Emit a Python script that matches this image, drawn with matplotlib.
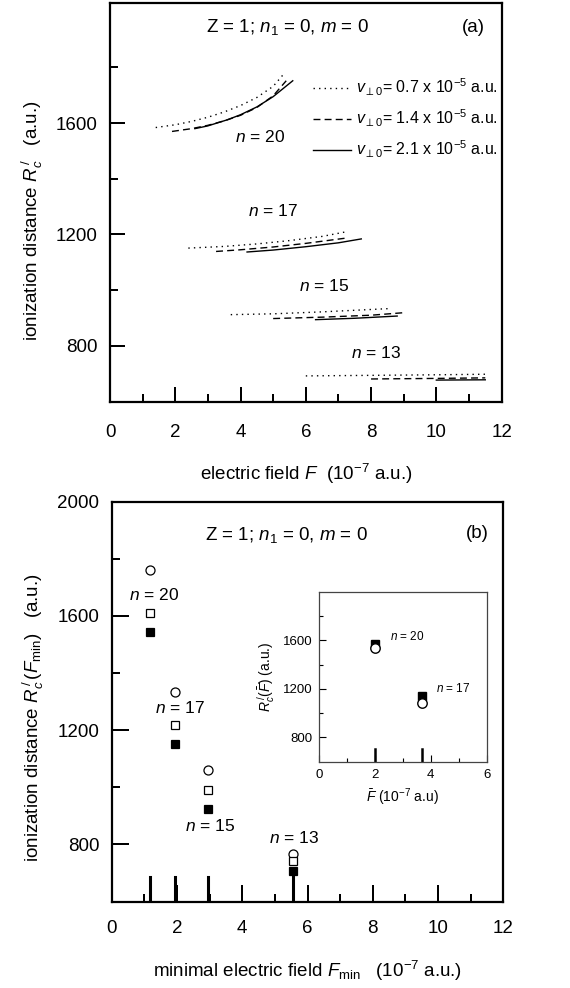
import numpy as np
import matplotlib
matplotlib.use("Agg")
import matplotlib.pyplot as plt
from matplotlib.ticker import FixedLocator, MultipleLocator

plt.rcParams['font.family'] = ['Liberation Sans', 'DejaVu Sans']
plt.rcParams['mathtext.fontset'] = 'custom'
plt.rcParams['mathtext.rm'] = 'Liberation Sans'
plt.rcParams['mathtext.it'] = 'Liberation Sans:italic'
plt.rcParams['mathtext.bf'] = 'Liberation Sans:bold'

# panel (a): R_c' vs F for three transverse velocities
n20_dot_x = [1.4, 2.0, 2.5, 3.0, 3.5, 4.0, 4.5, 5.0, 5.3]
n20_dot_y = [1584, 1594, 1606, 1621, 1640, 1663, 1692, 1732, 1773]
n20_dash_x = [1.9, 2.5, 3.0, 3.5, 4.0, 4.5, 5.0, 5.4]
n20_dash_y = [1570, 1580, 1592, 1608, 1628, 1656, 1698, 1752]
n20_sol_x = [2.6, 3.0, 3.6, 4.0, 4.5, 5.0, 5.6]
n20_sol_y = [1580, 1590, 1612, 1630, 1658, 1695, 1752]

n17_dot_x = [2.4, 3.5, 4.5, 5.5, 6.5, 7.3]
n17_dot_y = [1151, 1157, 1166, 1178, 1193, 1211]
n17_dash_x = [3.25, 4.0, 5.0, 6.0, 7.3]
n17_dash_y = [1139, 1145, 1155, 1168, 1188]
n17_sol_x = [4.2, 5.0, 6.0, 7.0, 7.7]
n17_sol_y = [1137, 1144, 1156, 1170, 1184]

n15_dot_x = [3.7, 5.0, 6.5, 8.6]
n15_dot_y = [912, 915, 922, 934]
n15_dash_x = [5.0, 6.5, 8.0, 9.0]
n15_dash_y = [898, 903, 910, 919]
n15_sol_x = [6.3, 7.5, 8.8]
n15_sol_y = [894, 899, 907]

n13_dot_x = [6.0, 8.0, 10.0, 11.5]
n13_dot_y = [692, 694, 696, 698]
n13_dash_x = [8.0, 10.0, 11.5]
n13_dash_y = [681, 683, 685]
n13_sol_x = [10.0, 11.5]
n13_sol_y = [677, 678]

n_labels = ["$n$ = 20", "$n$ = 17", "$n$ = 15", "$n$ = 13"]
a_label_x = [4.6, 5.0, 6.55, 8.15]
a_label_y = [1551, 1284, 1014, 775]

# panel (b): R_c'(F_min)
fmin = [1.17, 1.94, 2.96, 5.55]
circ_y = [1760, 1334, 1062, 765]
open_sq_y = [1609, 1217, 989, 741]
fill_sq_y = [1544, 1150, 923, 706]
b_label_x = [1.3, 2.1, 3.0, 5.6]
b_label_y = [1673, 1278, 864, 822]

# inset
fbar = [2.0, 3.7]
inset_sq_y = [1570, 1145]
inset_circ_y = [1540, 1080]
inset_labels = ["$n$ = 20", "$n$ = 17"]
inset_label_x = [3.15, 4.8]
inset_label_y = [1633, 1200]

legend_labels = [r"$v_{{\perp}0}$= 0.7 x 10$^{-5}$ a.u.",
                 r"$v_{{\perp}0}$= 1.4 x 10$^{-5}$ a.u.",
                 r"$v_{{\perp}0}$= 2.1 x 10$^{-5}$ a.u."]

dotted = (0, (1, 3))
dashed = (0, (5, 3))


def style_axes(ax, lw=1.6, major=11, minor=5.5, size=13.5, pad=9):
    for s in ax.spines.values():
        s.set_linewidth(lw)
    ax.tick_params(which='both', direction='in', top=False, right=False,
                   width=lw * 0.9, labelsize=size, pad=pad)
    ax.tick_params(which='major', length=major)
    ax.tick_params(which='minor', length=minor)


fig = plt.figure(figsize=(5.7, 9.88), dpi=100)

# ---- panel (a)
ax1 = fig.add_axes([0.193, 0.5936, 0.687, 0.403])
curves = [
    (n20_dot_x, n20_dot_y, n20_dash_x, n20_dash_y, n20_sol_x, n20_sol_y),
    (n17_dot_x, n17_dot_y, n17_dash_x, n17_dash_y, n17_sol_x, n17_sol_y),
    (n15_dot_x, n15_dot_y, n15_dash_x, n15_dash_y, n15_sol_x, n15_sol_y),
    (n13_dot_x, n13_dot_y, n13_dash_x, n13_dash_y, n13_sol_x, n13_sol_y),
]
for i, (dx, dy, ex, ey, sx, sy) in enumerate(curves):
    ax1.plot(dx, dy, color='black', lw=1.0, ls=dotted,
             label=legend_labels[0] if i == 0 else None)
    ax1.plot(ex, ey, color='black', lw=1.0, ls=dashed,
             label=legend_labels[1] if i == 0 else None)
    ax1.plot(sx, sy, color='black', lw=1.0, ls='-',
             label=legend_labels[2] if i == 0 else None)
for lab, x, y in zip(n_labels, a_label_x, a_label_y):
    ax1.text(x, y, lab, fontsize=12.5, ha='center', va='center')

ax1.set_xlim(0, 12)
ax1.set_ylim(600, 2030)
ax1.xaxis.set_major_locator(MultipleLocator(2))
ax1.xaxis.set_minor_locator(MultipleLocator(1))
ax1.yaxis.set_major_locator(FixedLocator([800, 1200, 1600]))
ax1.yaxis.set_minor_locator(FixedLocator([1000, 1400, 1800]))
style_axes(ax1)
ax1.tick_params(axis='x', pad=16)
ax1.set_xlabel(r"electric field $F$  (10$^{-7}$ a.u.)", fontsize=13.5)
ax1.xaxis.set_label_coords(0.5, -0.152)
ax1.set_ylabel(r"ionization distance $R_c^{\,/}$   (a.u.)", fontsize=13.5)
ax1.yaxis.set_label_coords(-0.167, 0.455)
ax1.text(0.452, 0.94, r"Z = 1; $n_{\mathit{1}}$ = 0, $m$ = 0",
         transform=ax1.transAxes, fontsize=13.5, ha='center', va='center')
ax1.text(0.927, 0.94, "(a)", transform=ax1.transAxes, fontsize=13.5,
         ha='center', va='center')
ax1.legend(loc='center left', bbox_to_anchor=(0.518, 0.711), frameon=False,
           fontsize=11.5, handlelength=2.4, handletextpad=0.3,
           labelspacing=0.6, borderpad=0, borderaxespad=0)

# ---- panel (b)
ax2 = fig.add_axes([0.196, 0.0874, 0.687, 0.405])
ax2.plot(fmin, circ_y, 'o', ms=6.5, mfc='white', mec='black', mew=0.9)
ax2.plot(fmin, open_sq_y, 's', ms=5.8, mfc='white', mec='black', mew=0.9)
ax2.plot(fmin, fill_sq_y, 's', ms=6.0, mfc='black', mec='black', mew=0.9)
for x in fmin:
    ax2.axvline(x, ymin=0, ymax=0.0625, color='black', lw=2.2)
for lab, x, y in zip(n_labels, b_label_x, b_label_y):
    ax2.text(x, y, lab, fontsize=12.5, ha='center', va='center')
ax2.set_xlim(0, 12)
ax2.set_ylim(600, 2000)
ax2.xaxis.set_major_locator(MultipleLocator(2))
ax2.xaxis.set_minor_locator(MultipleLocator(1))
ax2.yaxis.set_major_locator(FixedLocator([800, 1200, 1600, 2000]))
ax2.yaxis.set_minor_locator(FixedLocator([1000, 1400, 1800]))
style_axes(ax2, major=12, minor=6)
ax2.tick_params(axis='x', pad=13)
ax2.set_xlabel(r"minimal electric field $F_{\rm min}$   (10$^{-7}$ a.u.)",
               fontsize=13.5)
ax2.xaxis.set_label_coords(0.5, -0.143)
ax2.set_ylabel(r"ionization distance $R_c^{\,/}\,(F_{\rm min})$   (a.u.)",
               fontsize=13.5)
ax2.yaxis.set_label_coords(-0.167, 0.46)
ax2.text(0.447, 0.917, r"Z = 1; $n_{\mathit{1}}$ = 0, $m$ = 0",
         transform=ax2.transAxes, fontsize=13.5, ha='center', va='center')
ax2.text(0.934, 0.921, "(b)", transform=ax2.transAxes, fontsize=13.5,
         ha='center', va='center')

# ---- inset
ax3 = fig.add_axes([0.560, 0.229, 0.2937, 0.172])
ax3.plot(fbar, inset_sq_y, 's', ms=6.0, mfc='black', mec='black', zorder=3)
ax3.plot(fbar, inset_circ_y, 'o', ms=6.8, mfc='white', mec='black',
         mew=1.0, zorder=4)
for x in fbar:
    ax3.axvline(x, ymin=0, ymax=0.075, color='black', lw=1.8)
for lab, x, y in zip(inset_labels, inset_label_x, inset_label_y):
    ax3.text(x, y, lab, fontsize=8.5, ha='center', va='center')
ax3.set_xlim(0, 6)
ax3.set_ylim(600, 2000)
ax3.xaxis.set_major_locator(MultipleLocator(2))
ax3.xaxis.set_minor_locator(MultipleLocator(1))
ax3.yaxis.set_major_locator(FixedLocator([800, 1200, 1600]))
ax3.yaxis.set_minor_locator(FixedLocator([1000, 1400, 1800]))
style_axes(ax3, lw=0.9, major=5, minor=3, size=9.5, pad=5)
for s in ax3.spines.values():
    s.set_color('#444444')
ax3.set_xlabel(r"$\bar{F}$ (10$^{-7}$ a.u)", fontsize=10, labelpad=4)
ax3.set_ylabel(r"$R_c^{\,/}(\bar{F})$ (a.u.)", fontsize=10, labelpad=4)

fig.savefig("out.png", dpi=100)
